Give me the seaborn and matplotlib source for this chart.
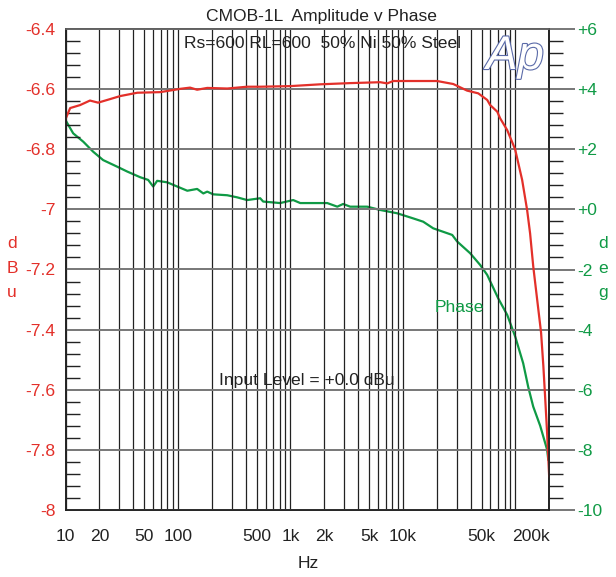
import numpy as np
import pandas as pd
import matplotlib
matplotlib.use("Agg")
import matplotlib.pyplot as plt
import matplotlib.patheffects as pe
from matplotlib.ticker import FixedLocator, AutoMinorLocator, FuncFormatter, NullFormatter
import seaborn as sns

# Amplitude (dBu) vs frequency (Hz)
amp_hz = [10, 11.0, 13.5, 16.5, 19.5, 25.0, 30.7, 43.5, 69.5, 90.6, 105, 128, 148, 182,
          274, 412, 538, 995, 1837, 3395, 6280, 7250, 8190, 20100, 28000, 37200, 46700,
          56100, 59600, 68900, 73100, 84400, 99300, 114700, 127000, 135000, 144000,
          156000, 169000, 177000, 184000, 191000, 199500]
amp_dbu = [-6.70, -6.663, -6.653, -6.638, -6.645, -6.633, -6.623, -6.612, -6.61, -6.603,
           -6.599, -6.595, -6.602, -6.596, -6.598, -6.592, -6.592, -6.59, -6.584, -6.58,
           -6.577, -6.581, -6.573, -6.573, -6.583, -6.605, -6.614, -6.636, -6.653, -6.675,
           -6.697, -6.736, -6.80, -6.902, -7.002, -7.08, -7.19, -7.30, -7.41, -7.52,
           -7.63, -7.74, -7.889]

# Phase (deg) vs frequency (Hz)
phase_hz = [10, 11.7, 14.4, 17.6, 21.6, 28.8, 35.3, 46.1, 54.3, 60.2, 65.3, 80.2, 98.4,
            121, 148, 168, 182, 206, 274, 336, 412, 538, 572, 809, 1057, 1222, 2124,
            2608, 2939, 3395, 4810, 6280, 8890, 12330, 15140, 18580, 27400, 30350,
            39600, 48600, 56100, 70300, 84500, 99500, 117200, 129800, 143900, 166000,
            191400, 196000]
phase_deg = [2.97, 2.53, 2.25, 1.92, 1.64, 1.42, 1.26, 1.07, 0.98, 0.76, 0.95, 0.90, 0.76,
             0.62, 0.68, 0.53, 0.59, 0.50, 0.47, 0.40, 0.31, 0.37, 0.26, 0.21, 0.31, 0.21,
             0.21, 0.09, 0.18, 0.09, 0.09, -0.02, -0.13, -0.30, -0.41, -0.63, -0.85, -1.07,
             -1.46, -1.85, -2.18, -2.96, -3.51, -4.23, -5.12, -5.90, -6.56, -7.2, -8.0, -8.34]

x_ticks = [10, 20, 50, 100, 500, 1000, 2000, 5000, 10000, 50000, 200000]
x_labels = ["10", "20", "50", "100", "500", "1k", "2k", "5k", "10k", "50k", "200k"]

RED = "#e3302a"
GREEN = "#0f9a45"
W, H = 616, 577

sns.set_style("white")
plt.rcParams["font.family"] = ["Liberation Sans", "DejaVu Sans"]
FS = 12.6

amp = pd.DataFrame({"hz": amp_hz, "dbu": amp_dbu})
phase = pd.DataFrame({"hz": phase_hz, "deg": phase_deg})

fig = plt.figure(figsize=(W / 100, H / 100), dpi=100)
ax = fig.add_axes([65.5 / W, 1 - 510 / H, (549.3 - 65.5) / W, (510 - 29) / H])
ax2 = ax.twinx()

ax.set_xscale("log")
ax.set_xlim(10, 200000)
ax.set_ylim(-8, -6.4)
ax2.set_ylim(-10, 6)

# vertical grid at every 1..9 per decade
minor_x = [m * 10 ** d for d in range(1, 6) for m in range(1, 10) if m * 10 ** d <= 200000]
ax.xaxis.set_major_locator(FixedLocator(x_ticks))
ax.xaxis.set_minor_locator(FixedLocator(minor_x))
ax.xaxis.set_minor_formatter(NullFormatter())
ax.set_xticklabels(x_labels)
ax.grid(True, axis="x", which="both", color="#222222", linewidth=0.9)
ax.grid(True, axis="y", which="major", color="#777777", linewidth=1.4)
ax.tick_params(axis="x", which="both", length=0, pad=14, labelsize=FS, labelcolor="#222222")
ax.get_xticklabels()[-1].set_ha("right")

ax.yaxis.set_major_locator(FixedLocator(np.arange(-8, -6.39, 0.2)))
ax.yaxis.set_minor_locator(AutoMinorLocator(5))
ax.yaxis.set_major_formatter(FuncFormatter(lambda v, p: f"{round(v, 2):g}"))
ax.tick_params(axis="y", which="major", length=0, pad=7, labelsize=FS, labelcolor=RED)
ax.tick_params(axis="y", which="minor", direction="in", length=10, width=1, color="#222222")

ax2.yaxis.set_major_locator(FixedLocator(np.arange(-10, 6.1, 2)))
ax2.yaxis.set_minor_locator(AutoMinorLocator(5))
ax2.yaxis.set_major_formatter(FuncFormatter(lambda v, p: f"{v:+.0f}"))
ax2.tick_params(axis="y", which="major", direction="out", length=19, width=1.4,
                color="#777777", pad=1, labelsize=FS, labelcolor=GREEN)
ax2.tick_params(axis="y", which="minor", direction="out", length=10, width=1, color="#222222")

for a in (ax, ax2):
    for s in a.spines.values():
        s.set_color("#222222")
        s.set_linewidth(1.2)
ax.spines["top"].set_color("#666666")

sns.lineplot(data=amp, x="hz", y="dbu", ax=ax, color=RED, linewidth=1.6)
sns.lineplot(data=phase, x="hz", y="deg", ax=ax2, color=GREEN, linewidth=1.6)
ax.set_xlabel("")
ax.set_ylabel("")
ax2.set_ylabel("")
ax.set_zorder(ax2.get_zorder() + 1)
ax.patch.set_visible(False)

def ftext(x, y, s, **kw):
    fig.text(x / W, 1 - y / H, s, ha="center", va="center", fontsize=FS, **kw)

ftext(321, 17, "CMOB-1L  Amplitude v Phase", color="#222222")
ftext(323, 43, "Rs=600 RL=600  50% Ni 50% Steel", color="#222222")
ftext(307, 381, "Input Level = +0.0 dBu", color="#222222")
ftext(459, 307, "Phase", color=GREEN)
ftext(308, 563, "Hz", color="#222222")
ftext(12, 268, "d\nB\nu", color=RED, linespacing=1.8)
ftext(603, 268, "d\ne\ng", color=GREEN, linespacing=1.8)

logo = fig.text(515 / W, 1 - 57 / H, "Ap", ha="center", va="center", fontsize=34,
                style="italic", color="white")
logo.set_path_effects([pe.withStroke(linewidth=1.6, foreground="#5a6aa8")])

fig.savefig("out.png", dpi=100)
